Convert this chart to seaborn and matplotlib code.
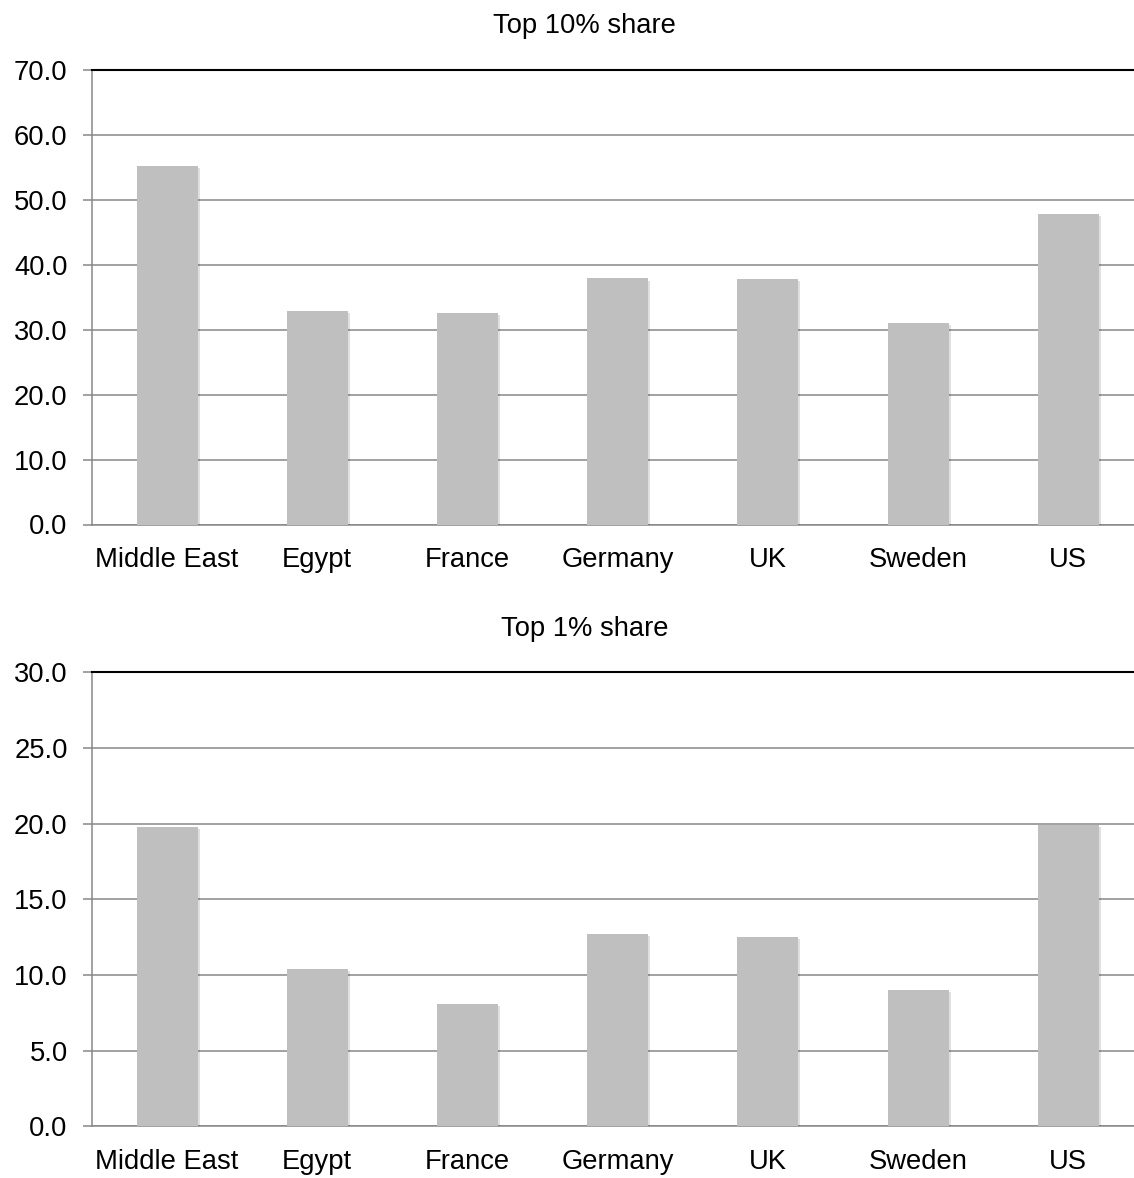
import matplotlib
matplotlib.use('Agg')
import matplotlib.pyplot as plt
import matplotlib.patheffects as pe
import seaborn as sns
import pandas as pd
import numpy as np

countries = ['Middle East', 'Egypt', 'France', 'Germany', 'UK', 'Sweden', 'US']
top10_share = [55.2, 32.9, 32.6, 37.9, 37.8, 31.0, 47.8]
top1_share = [19.8, 10.4, 8.1, 12.7, 12.5, 9.0, 19.9]

sns.set_style('white')
plt.rcParams['font.family'] = ['Liberation Sans', 'DejaVu Sans']
plt.rcParams['text.color'] = 'black'

bar_color = '#bfbfbf'
grid_color = '#878787'
fs = 19.7

fig = plt.figure(figsize=(11.34, 11.78), dpi=100)

W, H = 1134, 1178
left_px, right_px = 92, 1143.4
panels = [
    (top10_share, 'Top 10% share', 70.0, 524.5, 70, 10, 32.7),
    (top1_share, 'Top 1% share', 672.3, 1126.3, 30, 5, 636),
]

for values, title, top_px, bot_px, ymax, step, title_base in panels:
    ax = fig.add_axes([left_px / W, 1 - bot_px / H, (right_px - left_px) / W, (bot_px - top_px) / H])
    df = pd.DataFrame({'country': countries, 'share': values})
    sns.barplot(data=df, x='country', y='share', color=bar_color, width=0.406,
                saturation=1, ax=ax, zorder=3)
    for p in ax.patches:
        p.set_edgecolor('none')
        p.set_path_effects([pe.SimplePatchShadow(offset=(1.5, -1.5), shadow_rgbFace='#000000', alpha=0.12),
                            pe.Normal()])

    ax.set_xlim(-0.5, 6.5)
    ax.set_ylim(0, ymax)
    yt = np.arange(0, ymax + step / 2, step)
    ax.set_yticks(yt)
    ax.set_yticklabels([f'{v:.1f}' for v in yt])
    ax.yaxis.grid(True, color=grid_color, linewidth=1.1, zorder=0)
    ax.set_axisbelow(True)
    ax.set_xlabel('')
    ax.set_ylabel('')

    # category boundaries carry the small tick marks
    ax.set_xticks(np.arange(-0.5, 7, 1), minor=True)
    ax.tick_params(axis='x', which='major', length=0, pad=16.5, labelsize=fs, labelcolor='black')
    ax.tick_params(axis='x', which='minor', length=6.5, width=1.1, color=grid_color, direction='out')
    ax.tick_params(axis='y', length=6.5, width=1.1, color=grid_color, pad=11,
                   labelsize=fs, labelcolor='black', direction='out', left=True)

    for side in ['left', 'bottom']:
        ax.spines[side].set_color(grid_color)
        ax.spines[side].set_linewidth(1.1)
    ax.spines['top'].set_color('black')
    ax.spines['top'].set_linewidth(1.5)
    ax.spines['right'].set_visible(False)

    fig.text(584.5 / W, 1 - title_base / H, title, ha='center', va='baseline',
             fontsize=fs, color='black')

fig.savefig('out.png', dpi=100)
